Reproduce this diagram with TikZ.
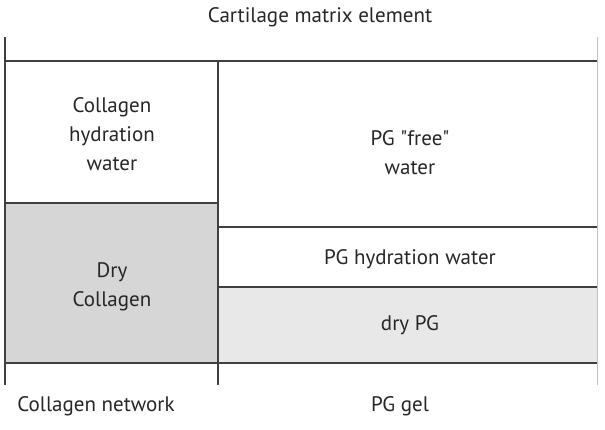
\documentclass[tikz,border=0pt]{standalone}
\usepackage{fontspec}
\setmainfont{PT Sans}
\begin{document}
\begin{tikzpicture}[x=1pt,y=-1pt,
  lbl/.style={font=\fontsize{21}{29}\selectfont,text=black!85,align=center,inner sep=0pt},
  ln/.style={line width=1.6pt,draw=black!75},
  fln/.style={line width=1pt,draw=black!25}]
\useasboundingbox (0,0) rectangle (605,429);
\fill[black!16] (5,203) rectangle (218,363);
\fill[black!9] (218,287) rectangle (597,363);
\coordinate (tl) at (5,37);
\coordinate (bl) at (5,385);
\coordinate (tr) at (597,37);
\coordinate (br) at (597,385);
\coordinate (mt) at (218,61);
\coordinate (mb) at (218,385);
\draw[fln] (tr) -- (br);
\draw[ln] (tl) -- (bl);
\draw[ln] (mt) -- (mb);
\draw[ln] (5,61) -- (597,61);
\draw[ln] (5,363) -- (597,363);
\draw[ln] (5,203) -- (218,203);
\draw[ln] (218,227) -- (597,227);
\draw[ln] (218,287) -- (597,287);
\node[lbl] (title) at (320,17) {Cartilage matrix element};
\node[lbl] (chw) at (112,134) {Collagen\\hydration\\water};
\node[lbl] (dc) at (112,287) {Dry\\Collagen};
\node[lbl] (pgf) at (410,153) {PG \textquotedbl free\textquotedbl\\water};
\node[lbl] (pgh) at (410,259) {PG hydration water};
\node[lbl] (dpg) at (410,325) {dry PG};
\node[lbl] (cn) at (96,406) {Collagen network};
\node[lbl] (gel) at (400,406) {PG gel};
\end{tikzpicture}
\end{document}
